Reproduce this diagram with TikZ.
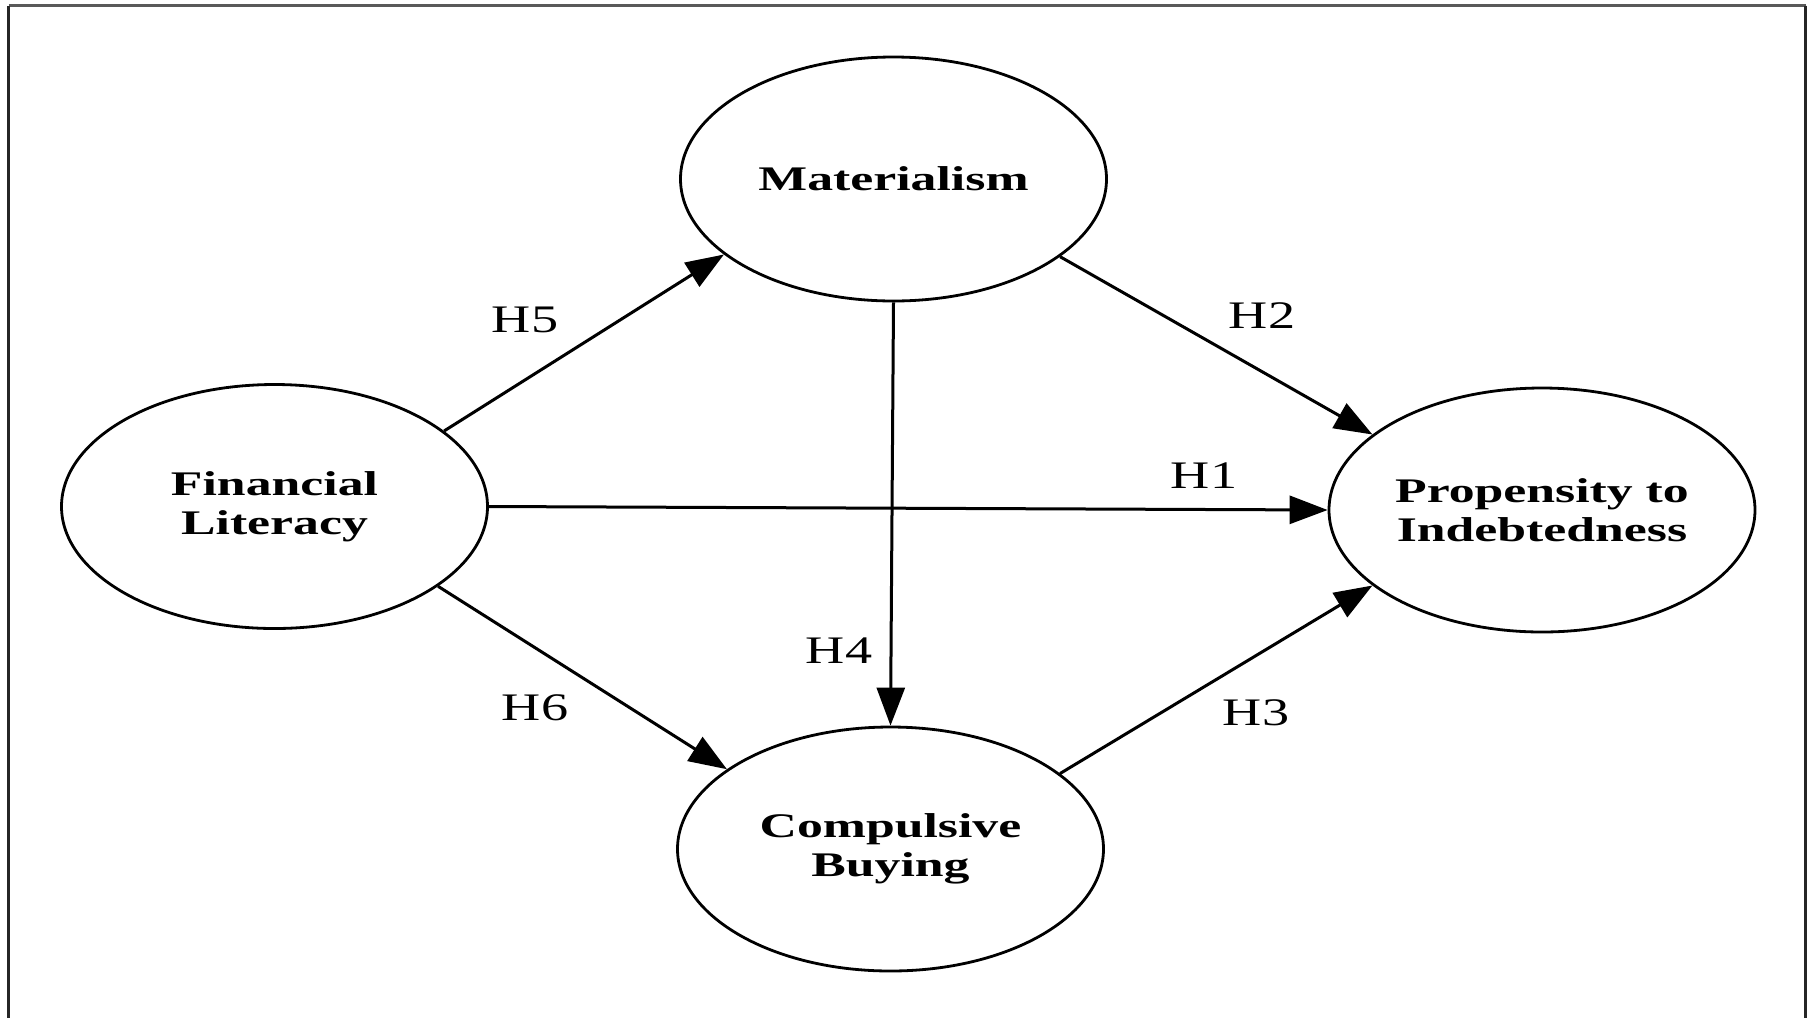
\documentclass[tikz,border=0pt]{standalone}
\usepackage{fontspec}
\setmainfont{Liberation Serif}
\newfontfamily\nodefont[FakeStretch=1.5]{Liberation Serif}
\newfontfamily\hypfont[FakeStretch=1.39]{Liberation Serif}
\usetikzlibrary{shapes.geometric,arrows.meta}
\begin{document}
\begin{tikzpicture}[x=0.5pt,y=-0.5pt,
  construct/.style={ellipse,draw,line width=1.4pt,minimum width=213pt,minimum height=122pt,inner sep=0pt,align=center,
    font=\nodefont\bfseries\fontsize{17.25}{19.5}\selectfont},
  hyp/.style={inner sep=0pt,font=\hypfont\fontsize{19.5}{22}\selectfont},
  path/.style={line width=1.5pt,-{Triangle[length=19pt,width=14pt]}},
  frameline/.style={line width=1.3pt}]
\useasboundingbox (0,0) rectangle (1810,1018);
% frame (open at bottom)
\draw[frameline,black!65] (8.5,5.7) -- (1806,5.7);
\draw[frameline,black!85] (8.5,5.7) -- (8.5,1018);
\draw[frameline,black!85] (1805.5,5.7) -- (1805.5,1018);
% constructs
\node[construct] (fl) at (274.5,506.5) {Financial\\Literacy};
\node[construct] (mat) at (893.5,179) {Materialism};
\node[construct] (cb) at (890.5,849) {Compulsive\\Buying};
\node[construct] (pi) at (1542,510) {Propensity to\\Indebtedness};
% paths
\draw[path] (fl.24.6) -- (mat.204.3);
\draw[path] (mat.335.8) -- (pi.156.2);
\draw[path] (fl.east) -- (pi.west);
\draw[path] (mat.south) -- (cb.north);
\draw[path] (fl.334.4) -- (cb.154);
\draw[path] (cb.24.7) -- (pi.204.4);
% labels
\node[hyp] (h5) at (525,320) {H5};
\node[hyp] (h2) at (1262,316) {H2};
\node[hyp] (h1) at (1204,476) {H1};
\node[hyp] (h4) at (839,651) {H4};
\node[hyp] (h6) at (535,708) {H6};
\node[hyp] (h3) at (1256,713) {H3};
\end{tikzpicture}
\end{document}
